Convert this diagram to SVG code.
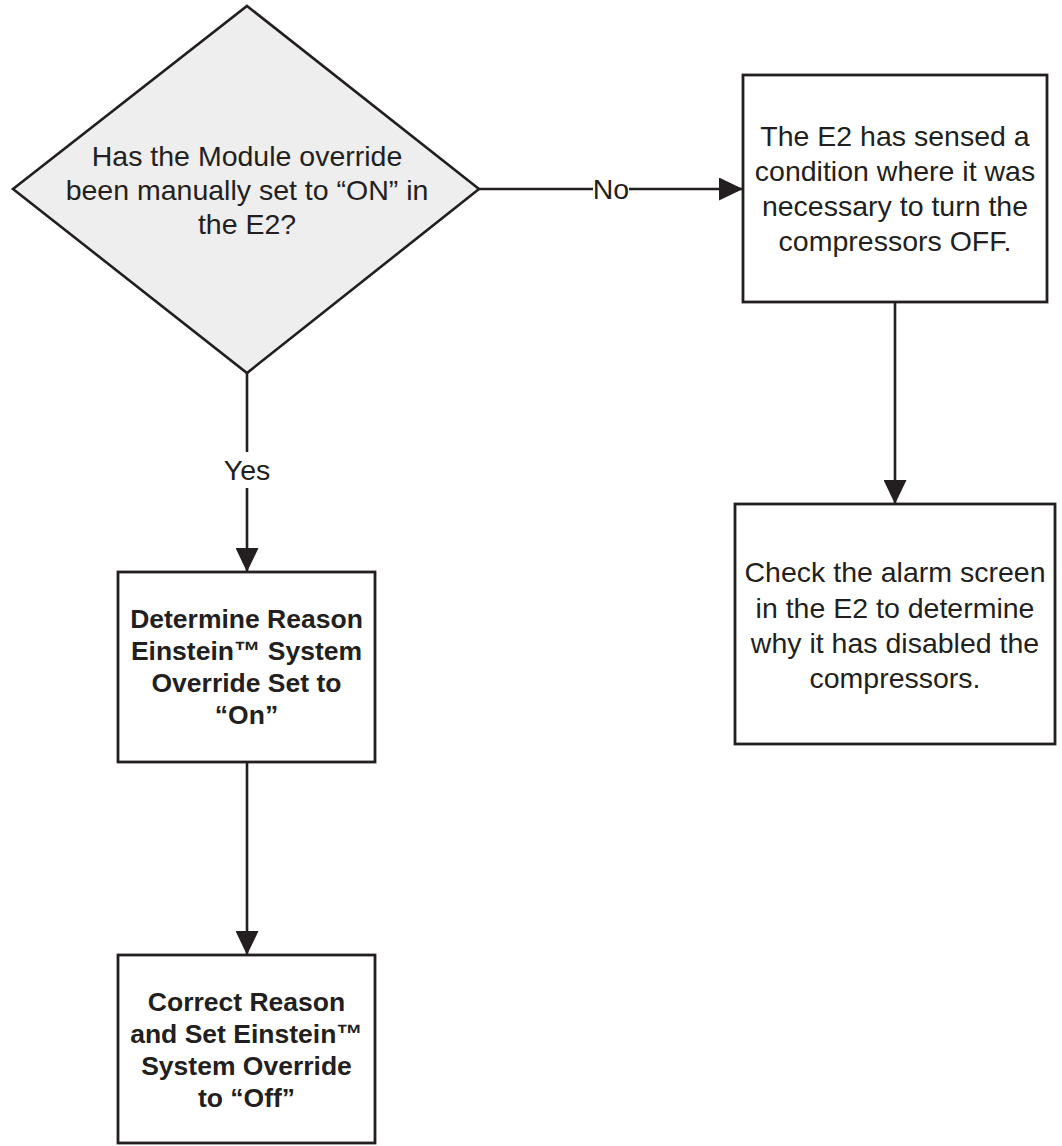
<svg xmlns="http://www.w3.org/2000/svg" width="1062" height="1146" viewBox="0 0 1062 1146">
<defs>
<style>
.shape{fill:#ffffff;stroke:#231f20;stroke-width:2.8}
.dia{fill:#eeeeee;stroke:#231f20;stroke-width:2.6}
.line{fill:none;stroke:#231f20;stroke-width:2.6}
.t{font-family:"Liberation Sans",Arial,sans-serif;font-size:28.5px;fill:#231f20;text-anchor:middle}
.b{font-family:"Liberation Sans",Arial,sans-serif;font-size:26.5px;font-weight:bold;fill:#231f20;text-anchor:middle}
</style>
<marker id="arr" markerUnits="userSpaceOnUse" markerWidth="25" markerHeight="23" refX="24" refY="11.5" orient="auto">
<path d="M0,0 L24,11.5 L0,23 z" fill="#231f20"/>
</marker>
</defs>
<rect width="1062" height="1146" fill="#ffffff"/>
<g id="connectors">
<line class="line" x1="478" y1="189" x2="593" y2="189"/>
<line class="line" x1="629" y1="189" x2="743" y2="189" marker-end="url(#arr)"/>
<text class="t" x="611" y="199">No</text>
<line class="line" x1="247" y1="372" x2="247" y2="452"/>
<line class="line" x1="247" y1="488" x2="247" y2="572" marker-end="url(#arr)"/>
<text class="t" x="247" y="480">Yes</text>
<line class="line" x1="895" y1="302" x2="895" y2="504" marker-end="url(#arr)"/>
<line class="line" x1="247" y1="762" x2="247" y2="955" marker-end="url(#arr)"/>
</g>
<g id="decision">
<polygon class="dia" points="247,6 479,189 247,373 13,189"/>
<text class="t" x="247" y="166">Has the Module override</text>
<text class="t" x="247" y="200">been manually set to “ON” in</text>
<text class="t" x="247" y="234">the E2?</text>
</g>
<g id="sensed">
<rect class="shape" x="743" y="75" width="304" height="227"/>
<text class="t" x="895" y="146">The E2 has sensed a</text>
<text class="t" x="895" y="181">condition where it was</text>
<text class="t" x="895" y="216">necessary to turn the</text>
<text class="t" x="895" y="251">compressors OFF.</text>
</g>
<g id="check">
<rect class="shape" x="735" y="504" width="320" height="240"/>
<text class="t" x="895" y="582">Check the alarm screen</text>
<text class="t" x="895" y="618">in the E2 to determine</text>
<text class="t" x="895" y="653">why it has disabled the</text>
<text class="t" x="895" y="688">compressors.</text>
</g>
<g id="determine">
<rect class="shape" x="118" y="572" width="257" height="190"/>
<text class="b" x="246.5" y="628">Determine Reason</text>
<text class="b" x="246.5" y="660">Einstein™ System</text>
<text class="b" x="246.5" y="692">Override Set to</text>
<text class="b" x="246.5" y="724">“On”</text>
</g>
<g id="correct">
<rect class="shape" x="118" y="955" width="257" height="188"/>
<text class="b" x="246.5" y="1011">Correct Reason</text>
<text class="b" x="246.5" y="1043">and Set Einstein™</text>
<text class="b" x="246.5" y="1075">System Override</text>
<text class="b" x="246.5" y="1107">to “Off”</text>
</g>
</svg>
